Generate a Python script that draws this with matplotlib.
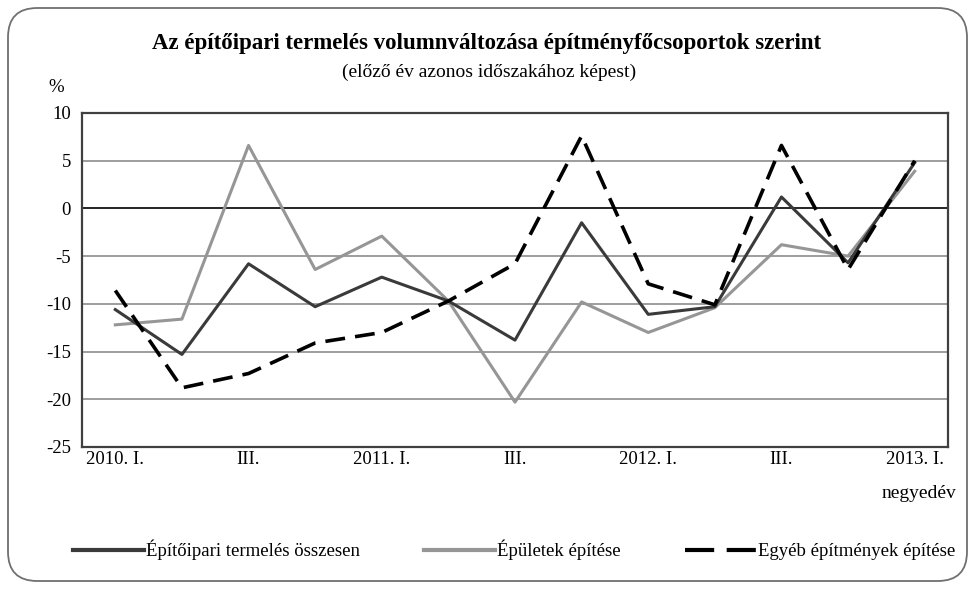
import numpy as np
import matplotlib
matplotlib.use("Agg")
import matplotlib.pyplot as plt
from matplotlib.patches import FancyBboxPatch
from matplotlib.lines import Line2D

plt.rcParams["font.family"] = ["Liberation Serif", "DejaVu Serif"]

# ── Adatok ────────────────────────────────────────────────
quarters = ["2010. I.", "II.", "III.", "IV.", "2011. I.", "II.", "III.", "IV.",
            "2012. I.", "II.", "III.", "IV.", "2013. I."]
osszesen = [-10.6, -15.3, -5.8, -10.3, -7.2, -9.7, -13.8, -1.5,
            -11.1, -10.3, 1.2, -5.7, 4.8]
epuletek = [-12.2, -11.6, 6.6, -6.4, -2.9, -9.7, -20.3, -9.8,
            -13.0, -10.4, -3.8, -5.0, 3.9]
egyeb = [-8.6, -18.8, -17.3, -14.1, -13.0, -9.7, -5.8, 7.6,
         -7.9, -10.1, 6.6, -6.4, 5.0]
labels = ["Építőipari termelés összesen", "Épületek építése",
          "Egyéb építmények építése"]
yticks = [10, 5, 0, -5, -10, -15, -20, -25]

W, H = 975, 589
fig = plt.figure(figsize=(W / 100, H / 100), dpi=100)

# lekerekített keret
frame = FancyBboxPatch((8 / W, 8 / H), 959 / W, 573 / H,
                       boxstyle="round,pad=0,rounding_size=0.03",
                       transform=fig.transFigure, fill=False,
                       ec="#707070", lw=1.3, mutation_aspect=W / H)
fig.patches.append(frame)

ax = fig.add_axes([82 / W, 1 - 447 / H, 866 / W, 334 / H])
x = np.arange(len(quarters))

for yv in yticks[1:-1]:
    ax.axhline(yv, color="black" if yv == 0 else "#8c8c8c",
               lw=1.2, zorder=1)

ax.plot(x, epuletek, color="#969696", lw=2.2, zorder=3)
ax.plot(x, osszesen, color="#3a3a3a", lw=2.2, zorder=4)
ax.plot(x, egyeb, color="black", lw=2.6, dashes=(5.5, 2.8), zorder=5)

ax.set_xlim(-0.5, len(quarters) - 0.5)
ax.set_ylim(-25, 10)
ax.set_yticks(yticks)
ax.set_yticklabels([str(v) for v in yticks], fontsize=13.5)
ax.set_xticks(x[::2])
ax.set_xticklabels([quarters[i] if i % 4 == 0 else "III." for i in x[::2]],
                   fontsize=13.5)
ax.tick_params(length=0, pad=8)
ax.tick_params(axis="x", pad=3)
for s in ax.spines.values():
    s.set_color("#404040")
    s.set_linewidth(1.6)

fig.text(487 / W, 1 - 43 / H,
         "Az építőipari termelés volumnváltozása építményfőcsoportok szerint",
         ha="center", va="center", fontsize=16.5, fontweight="bold")
fig.text(489 / W, 1 - 72 / H, "(előző év azonos időszakához képest)",
         ha="center", va="center", fontsize=14)
fig.text(56 / W, 1 - 88 / H, "%", ha="center", va="center", fontsize=13.5)
fig.text(956 / W, 1 - 494 / H, "negyedév", ha="right", va="center",
         fontsize=14)

handles = [Line2D([], [], color="#3a3a3a", lw=3),
           Line2D([], [], color="#969696", lw=3),
           Line2D([], [], color="black", lw=3, dashes=(7, 3))]
fig.legend(handles, labels, loc="center", bbox_to_anchor=(514 / W, 1 - 550 / H),
           ncol=3, frameon=False, fontsize=13.5, handlelength=3.8,
           handletextpad=0.1, columnspacing=3.4)

fig.savefig("out.png", dpi=100)
